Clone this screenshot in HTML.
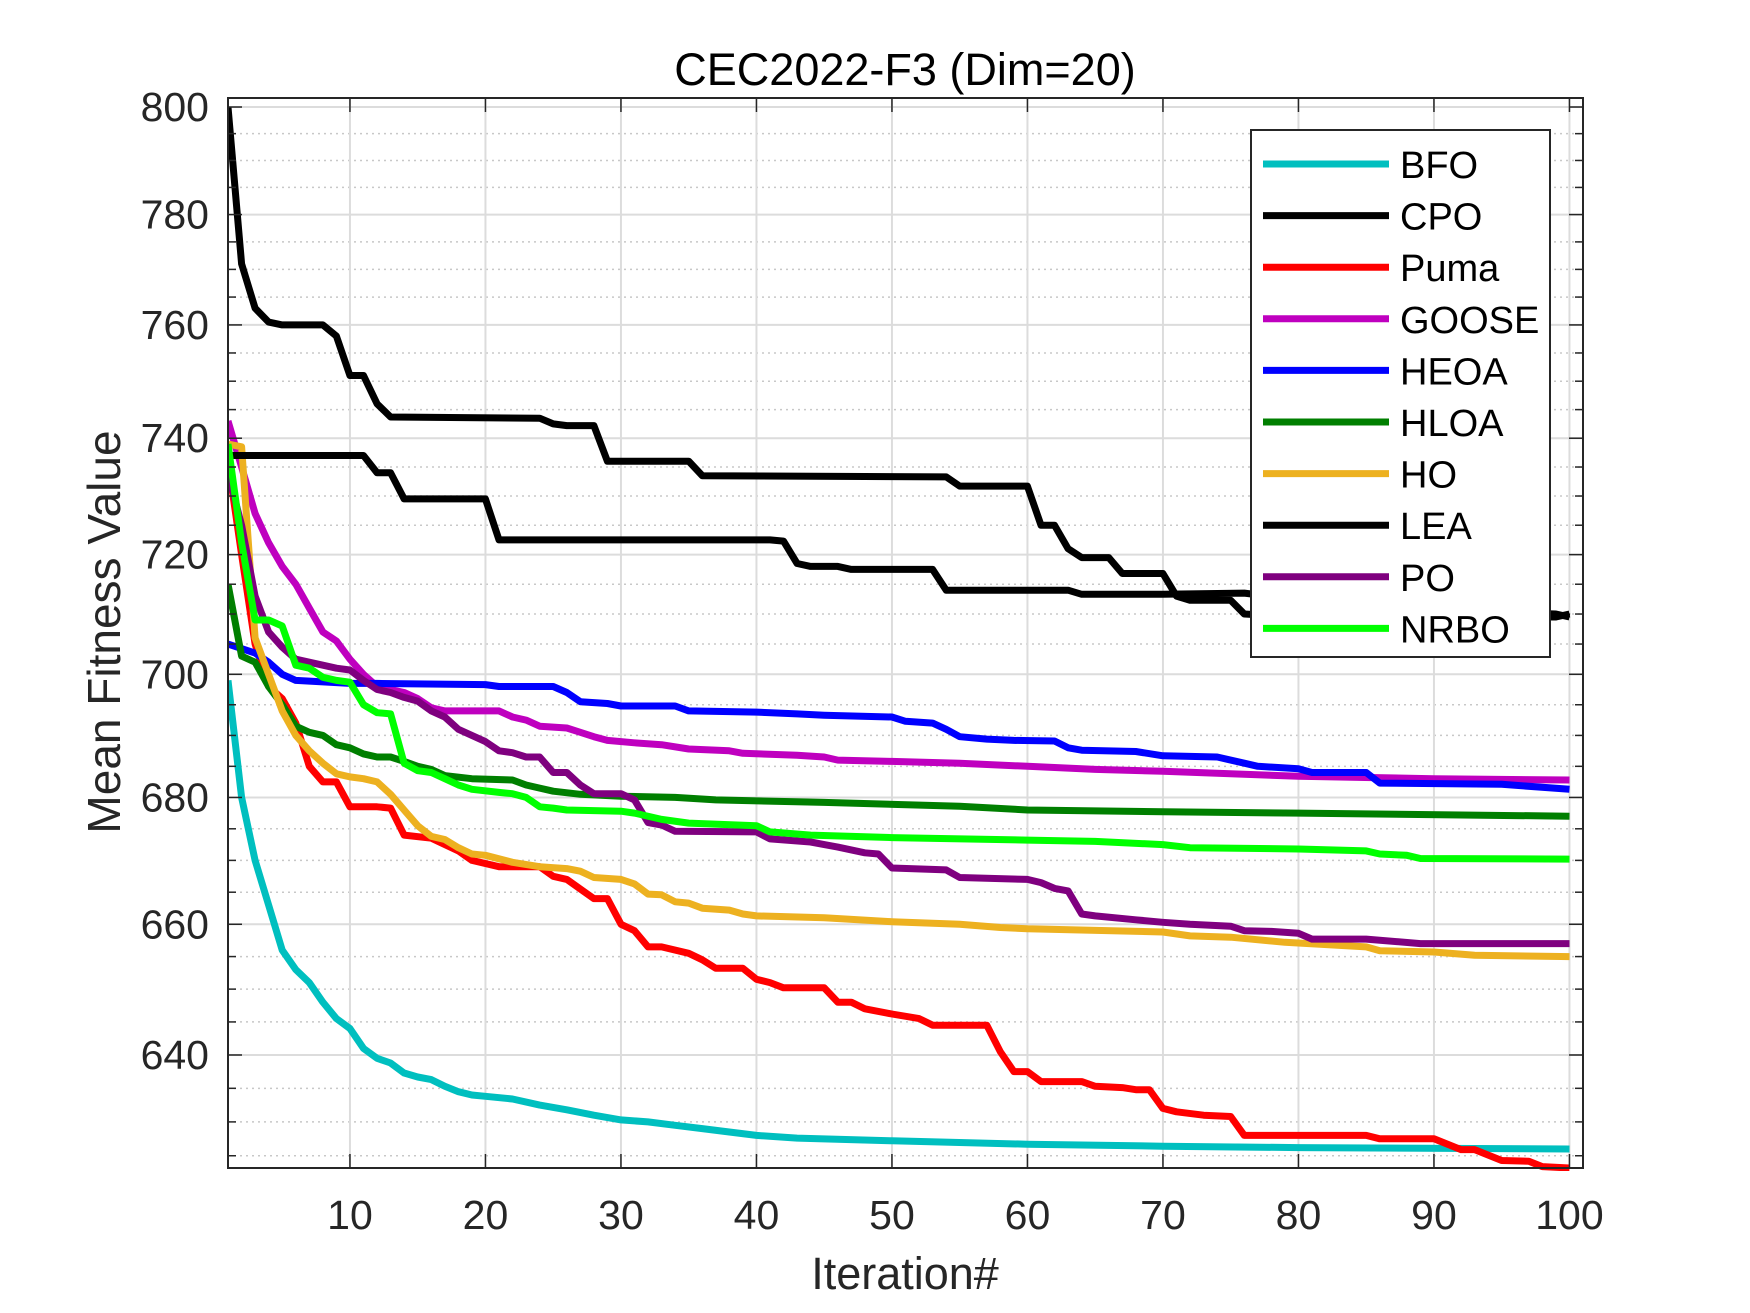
<!DOCTYPE html>
<html><head><meta charset="utf-8"><style>
html,body{margin:0;padding:0;background:#fff;}
svg{display:block;font-family:"Liberation Sans",Arial,sans-serif;}
</style></head><body>
<svg id="chart" width="1750" height="1313" viewBox="0 0 1750 1313" xmlns="http://www.w3.org/2000/svg">
<rect x="0" y="0" width="1750" height="1313" fill="#fff"/>
<g id="grid"></g>
<g id="series"></g>
<g id="axes"></g>
<text x="905" y="85" font-size="45" text-anchor="middle" fill="#000">CEC2022-F3 (Dim=20)</text>
<text x="905" y="1289" font-size="45" text-anchor="middle" fill="#262626">Iteration#</text>
<text transform="translate(120,632) rotate(-90)" font-size="46" text-anchor="middle" fill="#262626">Mean Fitness Value</text>
<g id="legend"></g>
</svg>
<script>
const NS="http://www.w3.org/2000/svg";
const xTicks=[10,20,30,40,50,60,70,80,90,100];
const yTicks=[640,660,680,700,720,740,760,780,800];
const yMinor=[625,630,635,645,650,655,665,670,675,685,690,695,705,710,715,725,730,735,745,750,755,765,770,775,785,790,795];
const seriesNames=["BFO","CPO","Puma","GOOSE","HEOA","HLOA","HO","LEA","PO","NRBO"];
const seriesColors=["#00BFBF","#000000","#FF0000","#BF00BF","#0000FF","#007F00","#EDB120","#000000","#7F007F","#00FF00"];
const BFO=[[1,699],[2,680],[3,670],[4,663],[5,656],[6,653],[7,651],[8,648],[9,645.5],[10,644],[11,641],[12,639.5],[13,638.8],[14,637.3],[15,636.7],[16,636.3],[17,635.3],[18,634.5],[19,634],[20,633.8],[22,633.4],[24,632.5],[26,631.8],[28,631],[30,630.3],[32,630],[34,629.5],[36,629],[38,628.5],[40,628],[43,627.6],[50,627.2],[60,626.7],[70,626.4],[80,626.2],[100,626]];
const CPO=[[1,800],[2,771],[3,763],[4,760.5],[5,760],[8,760],[9,758],[10,751],[11,751],[12,746],[13,743.7],[24,743.5],[25,742.5],[26,742.2],[28,742.2],[29,736],[35,736],[36,733.5],[54,733.3],[55,731.7],[60,731.7],[61,725],[62,725],[63,721],[64,719.5],[66,719.5],[67,716.8],[70,716.8],[71,713],[72,712.3],[75,712.3],[76,710],[80,709.5],[99,709.5],[100,710]];
const Puma=[[1,736],[2,720],[3,705],[4,698],[5,696],[6,692],[7,685],[8,682.5],[9,682.5],[10,678.5],[12,678.5],[13,678.3],[14,674],[16,673.5],[18,671.5],[19,670],[21,669],[24,669],[25,667.5],[26,667],[27,665.5],[28,664],[29,664],[30,660],[31,659],[32,656.5],[33,656.5],[35,655.5],[36,654.5],[37,653.2],[39,653.2],[40,651.5],[41,651],[42,650.2],[45,650.2],[46,648],[47,648],[48,647],[50,646.2],[52,645.5],[53,644.5],[57,644.5],[58,640.5],[59,637.5],[60,637.5],[61,636],[64,636],[65,635.3],[67,635.1],[68,634.8],[69,634.8],[70,632],[71,631.5],[73,631],[75,630.8],[76,628],[85,628],[86,627.5],[90,627.5],[92,625.9],[93,625.9],[95,624.3],[97,624.2],[98,623.4],[100,623.2]];
const GOOSE=[[1,743],[2,735],[3,727],[4,722],[5,718],[6,715],[7,711],[8,707],[9,705.5],[10,702.5],[11,700],[12,698],[13,697.5],[14,697],[15,696],[16,694.5],[17,694],[21,694],[22,693],[23,692.5],[24,691.5],[26,691.2],[27,690.5],[28,689.8],[29,689.2],[31,688.8],[33,688.5],[35,687.8],[38,687.5],[39,687.1],[43,686.8],[45,686.5],[46,686],[50,685.8],[55,685.5],[60,685],[65,684.5],[70,684.2],[80,683.4],[90,683],[100,682.8]];
const HEOA=[[1,705],[3,703.5],[4,702],[5,700],[6,699],[10,698.5],[12,698.5],[20,698.3],[21,698],[25,698],[26,697],[27,695.5],[29,695.2],[30,694.8],[34,694.8],[35,694],[40,693.8],[43,693.5],[45,693.3],[50,693],[51,692.3],[53,692],[54,691],[55,689.8],[57,689.4],[59,689.2],[62,689.1],[63,688],[64,687.6],[68,687.4],[70,686.7],[74,686.5],[76,685.5],[77,685],[80,684.6],[81,684],[85,684],[86,682.3],[95,682.1],[100,681.3]];
const HLOA=[[1,715],[2,703],[3,702],[4,698],[5,695],[6,691.5],[7,690.5],[8,690],[9,688.5],[10,688],[11,687],[12,686.5],[13,686.5],[14,685.8],[15,685],[16,684.5],[17,683.5],[19,683],[22,682.8],[23,682],[24,681.5],[25,681],[27,680.5],[30,680.2],[34,680],[37,679.6],[45,679.2],[55,678.6],[60,678],[70,677.7],[80,677.5],[100,677]];
const HO=[[1,739],[2,738.5],[3,706],[4,700],[5,694],[6,690],[7,687.5],[8,685.5],[9,683.8],[10,683.3],[11,683],[12,682.5],[13,680.5],[14,678],[15,675.5],[16,673.8],[17,673.3],[18,672],[19,671],[20,670.8],[22,669.7],[24,669],[26,668.7],[27,668.3],[28,667.3],[30,667],[31,666.3],[32,664.7],[33,664.6],[34,663.5],[35,663.3],[36,662.5],[38,662.2],[39,661.6],[40,661.3],[45,661],[50,660.4],[55,660],[58,659.5],[60,659.3],[70,658.8],[72,658.2],[75,658],[79,657.2],[85,656.5],[86,655.9],[90,655.7],[93,655.2],[100,655]];
const LEA=[[1,737],[11,737],[12,734],[13,734],[14,729.5],[20,729.5],[21,722.5],[41,722.5],[42,722.3],[43,718.5],[44,718],[46,718],[47,717.5],[53,717.5],[54,714],[63,714],[64,713.3],[70,713.3],[76,713.5],[85,711],[99,710],[100,709.5]];
const PO=[[1,734],[2,725],[3,713],[4,707],[5,704.5],[6,702.5],[7,702],[8,701.5],[9,701],[10,700.7],[11,699],[12,697.5],[13,697],[14,696.2],[15,695.6],[16,694],[17,693],[18,691],[19,690],[20,689],[21,687.5],[22,687.2],[23,686.5],[24,686.5],[25,684],[26,684],[27,682],[28,680.6],[30,680.6],[31,679.6],[32,676],[33,675.6],[34,674.6],[40,674.5],[41,673.4],[44,672.9],[45,672.5],[46,672.1],[48,671.2],[49,671],[50,668.8],[54,668.5],[55,667.3],[60,667],[61,666.5],[62,665.6],[63,665.2],[64,661.6],[65,661.3],[68,660.7],[70,660.3],[72,660],[75,659.7],[76,659],[78,658.9],[80,658.6],[81,657.7],[85,657.7],[89,657],[100,657]];
const NRBO=[[1,739],[2,722],[3,709],[4,709],[5,708],[6,701.5],[7,701],[8,699.5],[9,699],[10,698.7],[11,695],[12,693.7],[13,693.5],[14,685.5],[15,684.3],[16,684],[17,683],[18,682],[19,681.3],[21,680.8],[22,680.6],[23,680],[24,678.5],[25,678.3],[26,678],[30,677.8],[31,677.5],[33,676.5],[35,675.9],[40,675.5],[41,674.5],[44,674],[50,673.6],[60,673.2],[65,673],[70,672.5],[72,672],[80,671.8],[85,671.5],[86,671],[88,670.8],[89,670.3],[100,670.2]];
const seriesData=[BFO,CPO,Puma,GOOSE,HEOA,HLOA,HO,LEA,PO,NRBO];

const L=228,R=1583,T=98,B=1168;
const xMin=1,xMax=101,yMin=623.2,yMax=801.7;
function xs(v){return L+(v-xMin)/(xMax-xMin)*(R-L);}
function ys(v){return B-(Math.log(v)-Math.log(yMin))/(Math.log(yMax)-Math.log(yMin))*(B-T);}
function mk(tag,attrs,parent){const e=document.createElementNS(NS,tag);for(const k in attrs)e.setAttribute(k,attrs[k]);parent.appendChild(e);return e;}

const grid=document.getElementById('grid'),axes=document.getElementById('axes'),ser=document.getElementById('series'),leg=document.getElementById('legend');
const defs=mk('defs',{},document.getElementById('chart'));
const cp=mk('clipPath',{id:'clipA'},defs);
mk('rect',{x:L,y:T,width:R-L+4,height:B-T+3},cp);

yMinor.forEach(v=>{const y=ys(v);
 const g=mk('line',{x1:L,x2:R,y1:y,y2:y,stroke:'#c8c8c8','stroke-width':1.5,'stroke-dasharray':'2 4'},grid);
 
 const t1=mk('line',{x1:L,x2:L+8,y1:y,y2:y,stroke:'#262626','stroke-width':1.5},axes);
 
 const t2=mk('line',{x1:R-8,x2:R,y1:y,y2:y,stroke:'#262626','stroke-width':1.5},axes);
 
});
yTicks.forEach(v=>{const y=ys(v);
 const g=mk('line',{x1:L,x2:R,y1:y,y2:y,stroke:'#dcdcdc','stroke-width':2},grid);
 
 const t1=mk('line',{x1:L,x2:L+14,y1:y,y2:y,stroke:'#262626','stroke-width':1.5},axes);
 
 const t2=mk('line',{x1:R-14,x2:R,y1:y,y2:y,stroke:'#262626','stroke-width':1.5},axes);
 
 const lb=mk('text',{x:209,y:y+14,'font-size':41,'text-anchor':'end',fill:'#262626'},axes);
 lb.textContent=v;
});
xTicks.forEach(v=>{const x=xs(v);
 const g=mk('line',{x1:x,x2:x,y1:T,y2:B,stroke:'#dcdcdc','stroke-width':2},grid);
 
 const t1=mk('line',{x1:x,x2:x,y1:B-14,y2:B,stroke:'#262626','stroke-width':1.5},axes);
 
 const t2=mk('line',{x1:x,x2:x,y1:T,y2:T+14,stroke:'#262626','stroke-width':1.5},axes);
 
 const lb=mk('text',{x:x,y:1229,'font-size':41,'text-anchor':'middle',fill:'#262626'},axes);
 lb.textContent=v;
});
const box=mk('rect',{x:L,y:T,width:R-L,height:B-T,fill:'none',stroke:'#262626','stroke-width':2},axes);


seriesData.forEach((d,i)=>{
 const pts=d.map(p=>xs(p[0]).toFixed(1)+','+ys(p[1]).toFixed(1)).join(' ');
 const pl=mk('polyline',{points:pts,fill:'none',stroke:seriesColors[i],'stroke-width':7,'stroke-linejoin':'round','clip-path':'url(#clipA)'},ser);
 
 
});

const lx=1251,ly=130,lw=299,lh=527;
const lr=mk('rect',{x:lx,y:ly,width:lw,height:lh,fill:'#fff',stroke:'#262626','stroke-width':2},leg);

seriesNames.forEach((n,i)=>{
 const y=164+i*51.6;
 const g=mk('g',{},leg);
 
 
 mk('line',{x1:1263,x2:1389,y1:y,y2:y,stroke:seriesColors[i],'stroke-width':7},g);
 const t=mk('text',{x:1400,y:y+14,'font-size':38,fill:'#000'},g);
 t.textContent=n;
});
</script>
</body></html>
